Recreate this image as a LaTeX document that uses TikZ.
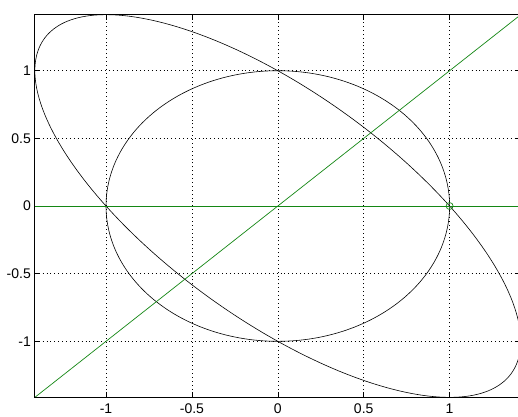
\documentclass[tikz,border=0pt]{standalone}
\usepackage{fontspec}
\setmainfont{Liberation Sans}
\definecolor{plotgreen}{RGB}{20,135,20}
\tikzset{
	gridline/.style={dash pattern={on 0.9pt off 3pt},line width=0.5pt},
	curve/.style={line width=0.6pt},
	greenline/.style={plotgreen,line width=0.7pt},
	ticklabel/.style={inner sep=0pt,font=\fontsize{14}{16}\selectfont}
}
\begin{document}
\begin{tikzpicture}[x=171.8pt,y=135.3pt]
			\useasboundingbox (-1.617,-1.552) rectangle (1.398,1.5226);
			\clip (-1.617,-1.552) rectangle (1.398,1.5226);
			\fill[white] (-1.617,-1.552) rectangle (1.398,1.5226);
			
			%Corners of the axes box
			\coordinate (sw) at (-1.4142,-1.4142);
			\coordinate (ne) at (1.4142,1.4142);
			\coordinate (w) at (-1.4142,0);
			\coordinate (e) at (1.4142,0);
			
			%Grid: vertical
			\draw [gridline] (-1,-1.4142) -- (-1,1.4142) ;
			\draw [gridline] (-0.5,-1.4142) -- (-0.5,1.4142) ;
			\draw [gridline] (0,-1.4142) -- (0,1.4142) ;
			\draw [gridline] (0.5,-1.4142) -- (0.5,1.4142) ;
			\draw [gridline] (1,-1.4142) -- (1,1.4142) ;
			%Grid: horizontal
			\draw [gridline] (-1.4142,-1) -- (1.4142,-1) ;
			\draw [gridline] (-1.4142,-0.5) -- (1.4142,-0.5) ;
			\draw [gridline] (-1.4142,0) -- (1.4142,0) ;
			\draw [gridline] (-1.4142,0.5) -- (1.4142,0.5) ;
			\draw [gridline] (-1.4142,1) -- (1.4142,1) ;
			
			%Ticks: bottom and top
			\draw [line width=0.6pt] (-1,-1.4142) -- ++(0,5pt) (-0.5,-1.4142) -- ++(0,5pt) (0,-1.4142) -- ++(0,5pt) (0.5,-1.4142) -- ++(0,5pt) (1,-1.4142) -- ++(0,5pt) ;
			\draw [line width=0.6pt] (-1,1.4142) -- ++(0,-5pt) (-0.5,1.4142) -- ++(0,-5pt) (0,1.4142) -- ++(0,-5pt) (0.5,1.4142) -- ++(0,-5pt) (1,1.4142) -- ++(0,-5pt) ;
			%Ticks: left and right
			\draw [line width=0.6pt] (-1.4142,-1) -- ++(5pt,0) (-1.4142,-0.5) -- ++(5pt,0) (-1.4142,0) -- ++(5pt,0) (-1.4142,0.5) -- ++(5pt,0) (-1.4142,1) -- ++(5pt,0) ;
			\draw [line width=0.6pt] (1.4142,-1) -- ++(-5pt,0) (1.4142,-0.5) -- ++(-5pt,0) (1.4142,0) -- ++(-5pt,0) (1.4142,0.5) -- ++(-5pt,0) (1.4142,1) -- ++(-5pt,0) ;
			
			%Shape: Circle (unit circle)
			\draw [curve] plot [domain=0:360,samples=120,smooth] ({cos(\x)},{sin(\x)}) -- cycle ;
			%Shape: Ellipse (x^2 + sqrt2 xy + y^2 = 1)
			\draw [curve] plot [domain=0:360,samples=120,smooth] ({-1.3066*cos(\x)+0.5412*sin(\x)},{1.3066*cos(\x)+0.5412*sin(\x)}) -- cycle ;
			
			%Straight Lines: green
			\draw [greenline] (w) -- (e) ;
			\draw [greenline] (sw) -- (ne) ;
			%Shape: Circle marker
			\draw [greenline] (1,0) circle (3.5pt) ;
			
			%Axes box
			\draw [line width=0.8pt] (sw) rectangle (ne) ;
			
			% Text Node
			\draw (-1,-1.463) node [ticklabel,anchor=north] (xlm1) {-1};
			% Text Node
			\draw (-0.5,-1.463) node [ticklabel,anchor=north] (xlm05) {-0.5};
			% Text Node
			\draw (0,-1.463) node [ticklabel,anchor=north] (xl0) {0};
			% Text Node
			\draw (0.5,-1.463) node [ticklabel,anchor=north] (xl05) {0.5};
			% Text Node
			\draw (1,-1.463) node [ticklabel,anchor=north] (xl1) {1};
			% Text Node
			\draw (-1.4366,1) node [ticklabel,anchor=east] (yl1) {1};
			% Text Node
			\draw (-1.4366,0.5) node [ticklabel,anchor=east] (yl05) {0.5};
			% Text Node
			\draw (-1.4366,0) node [ticklabel,anchor=east] (yl0) {0};
			% Text Node
			\draw (-1.4366,-0.5) node [ticklabel,anchor=east] (ylm05) {-0.5};
			% Text Node
			\draw (-1.4366,-1) node [ticklabel,anchor=east] (ylm1) {-1};
\end{tikzpicture}
\end{document}
